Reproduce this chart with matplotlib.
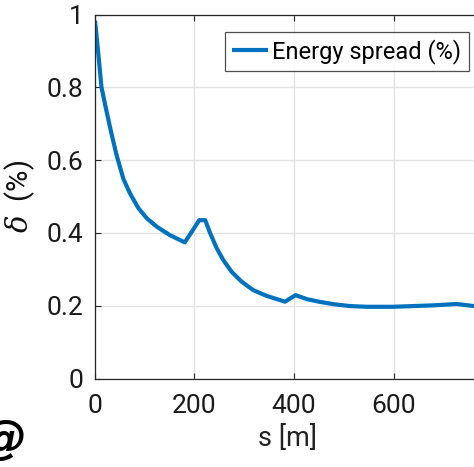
import numpy as np
import matplotlib.pyplot as plt

# energy spread along the line
s_m = [1, 7.6, 14, 24, 32, 44, 58, 71, 88, 105, 125, 151, 181, 195, 210, 222,
       232, 245, 258, 275, 295, 318, 345, 382, 403, 426, 450, 480, 512, 546,
       598, 640, 680, 726, 761, 790]
spread = [0.983, 0.893, 0.80, 0.735, 0.685, 0.615, 0.548, 0.509, 0.468, 0.44,
          0.417, 0.394, 0.374, 0.403, 0.435, 0.435, 0.399, 0.358, 0.326, 0.293,
          0.266, 0.243, 0.227, 0.211, 0.229, 0.218, 0.211, 0.204, 0.199, 0.197,
          0.197, 0.199, 0.201, 0.2047, 0.199, 0.199]

xticks = [0, 200, 400, 600]
yticks = [0, 0.2, 0.4, 0.6, 0.8, 1]
yticklabels = ["0", "0.2", "0.4", "0.6", "0.8", "1"]

BLUE = "#0072BD"
AX = "#262626"

plt.rcParams.update({
    "font.family": "Roboto",
    "mathtext.fontset": "dejavuserif",
})

fig = plt.figure(figsize=(4.74, 4.67), dpi=100)
ax = fig.add_axes([94.5 / 474, 88.5 / 467, 387 / 474, 364 / 467])

ax.plot(s_m, spread, color=BLUE, lw=3.0, label="Energy spread (%)",
        solid_joinstyle="round", solid_capstyle="butt")

ax.set_xlim(0, 776)
ax.set_ylim(0, 1)
ax.set_xticks(xticks)
ax.set_yticks(yticks)
ax.set_yticklabels(yticklabels)
ax.tick_params(direction="in", length=4, width=0.8, colors=AX, labelsize=19,
               top=True, right=True)
ax.tick_params(axis="x", pad=11)
ax.tick_params(axis="y", pad=8)
for lab in ax.get_xticklabels() + ax.get_yticklabels():
    lab.set_color("#1a1a1a")
ax.grid(True, color="#e3e3e3", lw=1.0)
for sp in ax.spines.values():
    sp.set_color(AX)
    sp.set_linewidth(0.9)

ax.set_xlabel("s [m]", fontsize=19.5, color="#222222", labelpad=5)
ax.set_ylabel(r"$\delta$  (%)", fontsize=21, color="#111111", labelpad=7)

leg = ax.legend(loc="upper right", bbox_to_anchor=(468.7 / 474, (467 - 32.3) / 467),
                bbox_transform=fig.transFigure, fontsize=17, frameon=True,
                fancybox=False, borderpad=0.3, handlelength=1.5, handletextpad=0.2,
                borderaxespad=0)
leg.get_frame().set_edgecolor(AX)
leg.get_frame().set_linewidth(0.9)

# watermark fragment in the lower-left corner
fig.text(-19 / 474, 14 / 467, "@", fontsize=33, fontweight="bold", style="italic",
         family="DejaVu Sans", ha="left", va="baseline", color="black")

fig.savefig("out.png", dpi=100)
